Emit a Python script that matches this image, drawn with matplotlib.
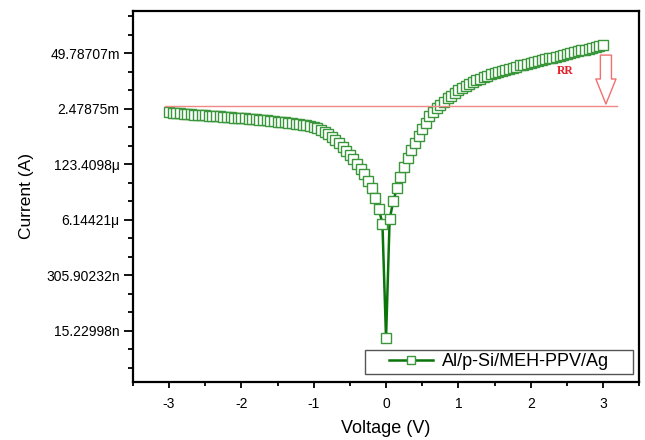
import numpy as np
import matplotlib.pyplot as plt
from matplotlib.patches import Rectangle
from matplotlib.ticker import FixedLocator, FixedFormatter, MultipleLocator

plt.rcParams['font.family'] = ['Liberation Sans', 'DejaVu Sans']
plt.rcParams['axes.unicode_minus'] = False

# bias sweep, 50 mV steps
voltage = np.round(np.arange(-3.0, 3.0001, 0.05), 2)
# natural log of the measured current (A)
ln_current = [
    -6.18, -6.21, -6.23, -6.25, -6.27, -6.29, -6.30, -6.32, -6.33, -6.35,
    -6.36, -6.38, -6.39, -6.41, -6.42, -6.44, -6.45, -6.47, -6.48, -6.50,
    -6.51, -6.53, -6.55, -6.56, -6.58, -6.60, -6.62, -6.64, -6.66, -6.68,
    -6.70, -6.72, -6.74, -6.76, -6.78, -6.81, -6.84, -6.87, -6.91, -6.95,
    -6.99, -7.06, -7.14, -7.25, -7.38, -7.53, -7.69, -7.86, -8.05, -8.26,
    -8.49, -8.73, -8.99, -9.26, -9.55, -9.90, -10.30, -10.80, -11.40, -12.20,
    -18.40,
    -11.96, -11.00, -10.30, -9.67, -9.13, -8.65, -8.23, -7.85, -7.47, -7.10,
    -6.75, -6.42, -6.17, -5.98, -5.80, -5.62, -5.45, -5.30, -5.15, -5.01,
    -4.87, -4.76, -4.66, -4.57, -4.48, -4.39, -4.31, -4.23, -4.15, -4.08,
    -4.02, -3.96, -3.90, -3.84, -3.78, -3.73, -3.67, -3.62, -3.57, -3.52,
    -3.47, -3.42, -3.38, -3.33, -3.28, -3.24, -3.19, -3.15, -3.10, -3.06,
    -3.01, -2.96, -2.91, -2.86, -2.81, -2.76, -2.71, -2.67, -2.62, -2.58,
]
current = np.exp(ln_current)

ytick_exp = [-3, -6, -9, -12, -15, -18]
ytick_labels = ['49.78707m', '2.47875m', '123.4098\u03bc', '6.14421\u03bc',
                '305.90232n', '15.22998n']
rr_level = -5.86      # ln of the rectification reference line
arrow_top = -3.11
arrow_tip = -5.75

fig = plt.figure(figsize=(6.45, 4.4), dpi=100)
ax = fig.add_axes([0.206, 0.132, 0.785, 0.843])

ax.plot(voltage, current, '-', color='#0b740b', lw=1.8, marker='s', ms=7.2,
        mfc='white', mec='#3a963a', mew=1.0, label='Al/p-Si/MEH-PPV/Ag')

ax.set_yscale('log', base=np.e)
ax.set_xlim(-3.5, 3.5)
ax.set_ylim(np.exp(-20.75), np.exp(-0.73))

ax.yaxis.set_major_locator(FixedLocator(np.exp(ytick_exp)))
ax.yaxis.set_major_formatter(FixedFormatter(ytick_labels))
minor = [k for k in range(-20, 0) if k not in ytick_exp]
ax.yaxis.set_minor_locator(FixedLocator(np.exp(minor)))
ax.yaxis.set_minor_formatter(FixedFormatter([''] * len(minor)))
ax.xaxis.set_major_locator(MultipleLocator(1))
ax.xaxis.set_minor_locator(MultipleLocator(0.5))

ax.tick_params(which='both', direction='out', top=False, right=False, width=1.3)
ax.tick_params(axis='y', which='major', length=6.5, pad=3, labelsize=10)
ax.tick_params(axis='y', which='minor', length=3.6)
ax.tick_params(axis='x', which='major', length=4.5, pad=6, labelsize=10)
ax.tick_params(axis='x', which='minor', length=3)
for s in ax.spines.values():
    s.set_linewidth(1.6)

ax.set_xlabel('Voltage (V)', fontsize=13, labelpad=7)
ax.set_ylabel('Current (A)', fontsize=12.5, labelpad=9)

# reference level and drop arrow
ax.plot([-3.05, 3.19], [np.exp(rr_level)] * 2, color='#f08888', lw=1.0)
ax.annotate('', xy=(3.04, np.exp(arrow_tip)), xytext=(3.04, np.exp(arrow_top)),
            arrowprops=dict(arrowstyle='simple,head_length=1.8,head_width=1.45,tail_width=0.8',
                            fc='white', ec='#f07070', lw=1.0,
                            shrinkA=0, shrinkB=0, mutation_scale=10))
ax.text(2.475, np.exp(-3.97), 'RR', color='#e8202a', fontsize=8.5,
        fontweight='bold', family='Liberation Serif', ha='center', va='center')

# legend: wide box drawn separately, entry centred inside it
ax.add_patch(Rectangle((0.4585, 0.0216), 0.5295, 0.0647, transform=ax.transAxes,
                       fc='white', ec='#555555', lw=1.0, zorder=4))
leg = ax.legend(loc='center', bbox_to_anchor=(0.7233, 0.054), fontsize=13,
                handlelength=2.4, handletextpad=0.5, borderpad=0,
                frameon=False)
leg.set_zorder(5)
for h in leg.legend_handles:
    h.set_markersize(5.5)

fig.savefig('out.png', dpi=100)
